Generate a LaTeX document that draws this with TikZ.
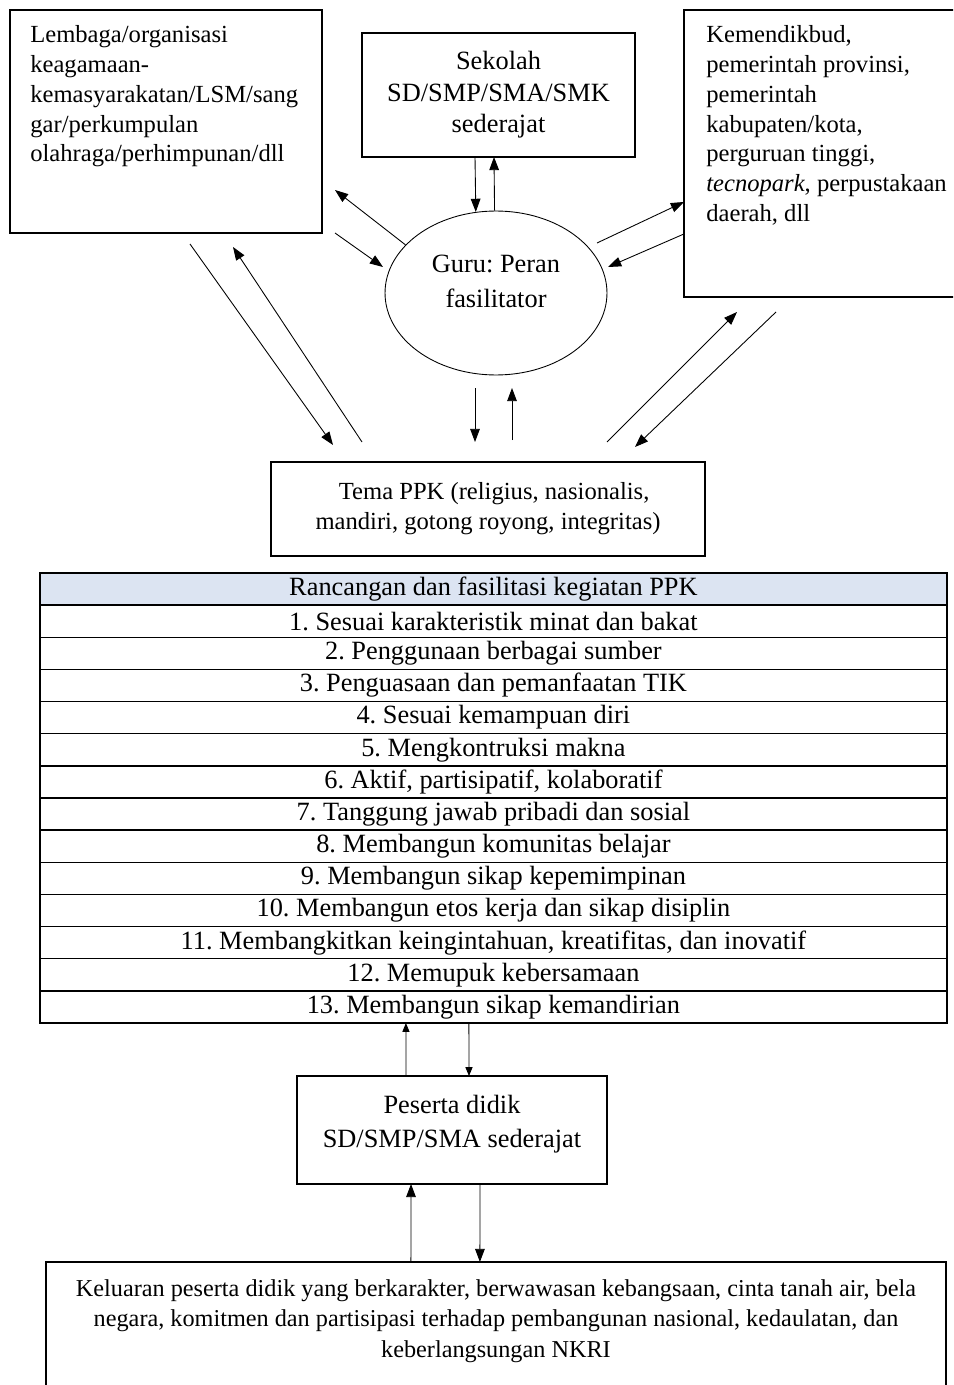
\documentclass[tikz,border=0pt]{standalone}
\usepackage{fontspec}
\setmainfont{Liberation Serif}
\usetikzlibrary{arrows.meta,positioning,calc,shapes.geometric}
\definecolor{HeadBlue}{HTML}{DCE4F2}
\frenchspacing

\begin{document}
\begin{tikzpicture}[x=0.02cm,y=-0.02cm,>={Triangle[length=7.5pt,width=5.5pt]},every node/.style={font=\fontsize{14}{17}\selectfont}, box/.style={draw, line width=0.8pt, inner sep=0pt, outer sep=0pt}, row/.style={box, minimum width=18.14cm, minimum height=0.643cm, font=\fontsize{15}{17}\selectfont, below=0pt of #1}, link/.style={->, line width=0.5pt}, smalllink/.style={-{Triangle[length=5pt,width=4pt]}, line width=0.5pt}]
        \clip (0,0) rectangle (953,1385);
        % partners around the teacher
        \node[box, anchor=north west, minimum width=6.24cm, minimum height=4.46cm] (lembaga) at (10,10) {};
        \node[anchor=north west, align=left, inner sep=0pt] (lembagatxt) at (30,25) {Lembaga/organisasi\\keagamaan-\\kemasyarakatan/LSM/sang\\gar/perkumpulan\\olahraga/perhimpunan/dll};
        \node[box, minimum width=5.46cm, minimum height=2.48cm, align=center, font=\fontsize{15}{18}\selectfont] (sekolah) at (498.5,95) {Sekolah\\SD/SMP/SMA/SMK\\sederajat};
        \node[box, anchor=north west, minimum width=6cm, minimum height=5.74cm] (pemda) at (684,10) {};
        \node[anchor=north west, align=left, inner sep=0pt] (pemdatxt) at (706,25) {Kemendikbud,\\pemerintah provinsi,\\pemerintah\\kabupaten/kota,\\perguruan tinggi,\\\textit{tecnopark}, perpustakaan\\daerah, dll};
        \node[ellipse, draw, line width=0.5pt, minimum width=4.44cm, minimum height=3.28cm] (guru) at (496,293) {};
        \node[align=center, font=\fontsize{15}{20}\selectfont] (gurutxt) at (496,281) {Guru: Peran\\fasilitator};
        \node[box, minimum width=8.68cm, minimum height=1.88cm, align=center] (tema) at (488,509) {\ \ Tema PPK (religius, nasionalis,\\mandiri, gotong royong, integritas)};

        % table of activities
        \node[box, fill=HeadBlue, anchor=north west, minimum width=18.14cm, minimum height=0.643cm, font=\fontsize{15}{17}\selectfont] (r0) at (40,573) {Rancangan dan fasilitasi kegiatan PPK};
        \node[row=r0] (r1) {1. Sesuai karakteristik minat dan bakat};
        \node[row=r1] (r2) {2. Penggunaan berbagai sumber};
        \node[row=r2] (r3) {3. Penguasaan dan pemanfaatan TIK};
        \node[row=r3] (r4) {4. Sesuai kemampuan diri};
        \node[row=r4] (r5) {5. Mengkontruksi makna};
        \node[row=r5] (r6) {6. Aktif, partisipatif, kolaboratif};
        \node[row=r6] (r7) {7. Tanggung jawab pribadi dan sosial};
        \node[row=r7] (r8) {8. Membangun komunitas belajar};
        \node[row=r8] (r9) {9. Membangun sikap kepemimpinan};
        \node[row=r9] (r10) {10. Membangun etos kerja dan sikap disiplin};
        \node[row=r10] (r11) {11. Membangkitkan keingintahuan, kreatifitas, dan inovatif};
        \node[row=r11] (r12) {12. Memupuk kebersamaan};
        \node[row=r12] (r13) {13. Membangun sikap kemandirian};

        \node[box, minimum width=6.2cm, minimum height=2.16cm] (peserta) at (452,1130) {};
        \node[align=center, font=\fontsize{15}{19.5}\selectfont] (pesertatxt) at (452,1124) {Peserta didik\\SD/SMP/SMA sederajat};
        \node[box, anchor=north west, minimum width=18cm, minimum height=2.8cm] (keluaran) at (46,1262) {};
        \node[align=center, inner sep=0pt, font=\fontsize{13.8}{17.2}\selectfont] (keluarantxt) at (496,1321) {Keluaran peserta didik yang berkarakter, berwawasan kebangsaan, cinta tanah air, bela\\negara, komitmen dan partisipasi terhadap pembangunan nasional, kedaulatan, dan\\keberlangsungan NKRI};

        % free ends of the connectors
        \coordinate (l1) at (335,190);
        \coordinate (l2) at (335,233);
        \coordinate (l3) at (383,267);
        \coordinate (p1) at (597,243);
        \coordinate (p2) at (608,267);
        \coordinate (lt1) at (190,244);
        \coordinate (lt2) at (333,445);
        \coordinate (lt3) at (362,442);
        \coordinate (lt4) at (233,247);
        \coordinate (gt1) at (475,388);
        \coordinate (gt2) at (475,442);
        \coordinate (gt3) at (512,440);
        \coordinate (gt4) at (512,388);
        \coordinate (pt1) at (607,442);
        \coordinate (pt2) at (737,312);
        \coordinate (pt3) at (776,312);
        \coordinate (pt4) at (635,447);

        \draw[link] (guru.152) -- (l1);
        \draw[link] (l2) -- (l3);
        \draw[link] ([xshift=-0.47cm]sekolah.south) -- (guru.104);
        \draw[link] (guru.91) -- ([xshift=-0.09cm]sekolah.south);
        \draw[link] (p1) -- ([yshift=-0.97cm]pemda.west);
        \draw[link] ([yshift=-1.61cm]pemda.west) -- (p2);
        \draw[link] (lt1) -- (lt2);
        \draw[link] (lt3) -- (lt4);
        \draw[link] (gt1) -- (gt2);
        \draw[link] (gt3) -- (gt4);
        \draw[link] (pt1) -- (pt2);
        \draw[link] (pt3) -- (pt4);
        \draw[smalllink] ([xshift=-0.92cm]peserta.north) -- ([xshift=-1.75cm]r13.south);
        \draw[smalllink] ([xshift=-0.49cm]r13.south) -- ([xshift=0.34cm]peserta.north);
        \draw[link] ([xshift=-1.7cm]keluaran.north) -- ([xshift=-0.82cm]peserta.south);
        \draw[link] ([xshift=0.56cm]peserta.south) -- ([xshift=-0.32cm]keluaran.north);
    \end{tikzpicture}
\end{document}
